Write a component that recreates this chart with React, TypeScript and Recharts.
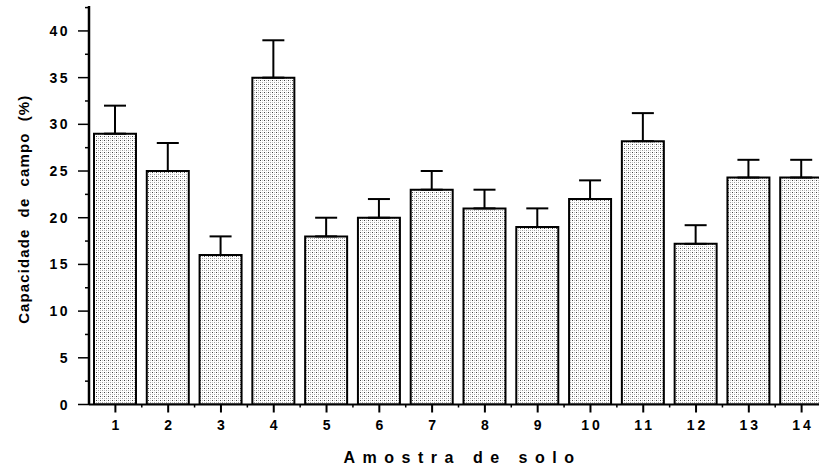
import React from 'react';
import { BarChart, Bar, XAxis, YAxis, ErrorBar } from 'recharts';

const samples = ['1', '2', '3', '4', '5', '6', '7', '8', '9', '10', '11', '12', '13', '14'];
const means = [29, 25, 16, 35, 18, 20, 23, 21, 19, 22, 28.2, 17.2, 24.3, 24.3];
const upperErrors = [3, 3, 2, 4, 2, 2, 2, 2, 2, 2, 3, 2, 1.9, 1.9];
const yTicks = [0, 2.5, 5, 7.5, 10, 12.5, 15, 17.5, 20, 22.5, 25, 27.5, 30, 32.5, 35, 37.5, 40, 42.5];
const majorYTicks = [0, 5, 10, 15, 20, 25, 30, 35, 40];

const data = samples.map((s, i) => ({ sample: s, value: means[i], err: [0, upperErrors[i]] }));

const FONT = "Arial, 'Liberation Sans', sans-serif";

const YTick = (props: any) => {
  const { x, y, payload } = props;
  const v = payload.value;
  const major = majorYTicks.includes(v);
  return (
    <g>
      <line x1={x - (major ? 11 : 4)} x2={x} y1={y} y2={y} stroke="#000" strokeWidth={1.5} />
      {major && (
        <text x={x - 19} y={y + 5} textAnchor="end" fontFamily={FONT} fontSize={14} fontWeight={600} letterSpacing={2.5} fill="#000">
          {v}
        </text>
      )}
    </g>
  );
};

const XTick = (props: any) => {
  const { x, y, payload } = props;
  const half = payload && payload.offset ? payload.offset : 26.4;
  return (
    <g>
      <line x1={x} x2={x} y1={y} y2={y + 8} stroke="#000" strokeWidth={2} />
      <line x1={x + half} x2={x + half} y1={y} y2={y + 3} stroke="#000" strokeWidth={1.5} />
      <text x={x + 1.5} y={y + 25.5} textAnchor="middle" fontFamily={FONT} fontSize={14} fontWeight={600} letterSpacing={3} fill="#000">
        {payload.value}
      </text>
    </g>
  );
};

const XTitle = (props: any) => {
  const vb = props.viewBox || { x: 89, y: 404.5, width: 739, height: 63.5 };
  return (
    <text x={vb.x + vb.width / 2 + 4} y={vb.y + 58} textAnchor="middle" fontFamily={FONT} fontSize={16} fontWeight="bold" letterSpacing={7.5} fill="#000">
      Amostra de solo
    </text>
  );
};

const YTitle = (props: any) => {
  const vb = props.viewBox || { x: 0, y: 6, width: 89, height: 398.5 };
  const cx = vb.x + 23;
  const cy = vb.y + vb.height / 2 + 4;
  return (
    <text
      x={cx}
      y={cy}
      transform={`rotate(-90 ${cx} ${cy})`}
      textAnchor="middle"
      dominantBaseline="central"
      fontFamily={FONT}
      fontSize={15}
      fontWeight="bold"
      letterSpacing={1.1}
      style={{ wordSpacing: 6 }}
      fill="#000"
    >
      Capacidade de campo (%)
    </text>
  );
};

export default function App() {
  return (
    <div style={{ position: 'absolute', left: 0, top: 0, width: 819, height: 468, overflow: 'hidden', background: '#fff' }}>
      <BarChart width={828} height={468} data={data} margin={{ top: 6, right: 0, bottom: 0, left: 0 }}>
        <defs>
          <pattern id="stipple" x="0" y="0" width="4" height="4" patternUnits="userSpaceOnUse">
            <rect x="0" y="0" width="4" height="4" fill="#ffffff" />
            <rect x="0" y="0" width="1" height="1" fill="#444444" />
            <rect x="2" y="2" width="1" height="1" fill="#a0a0a0" />
            <rect x="2" y="0" width="1" height="1" fill="#c4c4c4" />
            <rect x="0" y="2" width="1" height="1" fill="#c4c4c4" />
          </pattern>
        </defs>
        <XAxis
          dataKey="sample"
          height={63.5}
          interval={0}
          tickSize={0}
          tickMargin={0}
          tickLine={false}
          axisLine={{ stroke: '#000', strokeWidth: 2 }}
          tick={(p: any) => <XTick {...p} />}
          label={<XTitle />}
        />
        <YAxis
          width={89}
          type="number"
          domain={[0, 42.67]}
          ticks={yTicks}
          interval={0}
          allowDataOverflow
          tickSize={0}
          tickMargin={0}
          tickLine={false}
          axisLine={{ stroke: '#000', strokeWidth: 2.5 }}
          tick={(p: any) => <YTick {...p} />}
          label={<YTitle />}
        />
        <Bar dataKey="value" barSize={42} fill="url(#stipple)" stroke="#000" strokeWidth={2} isAnimationActive={false}>
          <ErrorBar dataKey="err" width={11} stroke="#000" strokeWidth={2} direction="y" isAnimationActive={false} />
        </Bar>
      </BarChart>
    </div>
  );
}
